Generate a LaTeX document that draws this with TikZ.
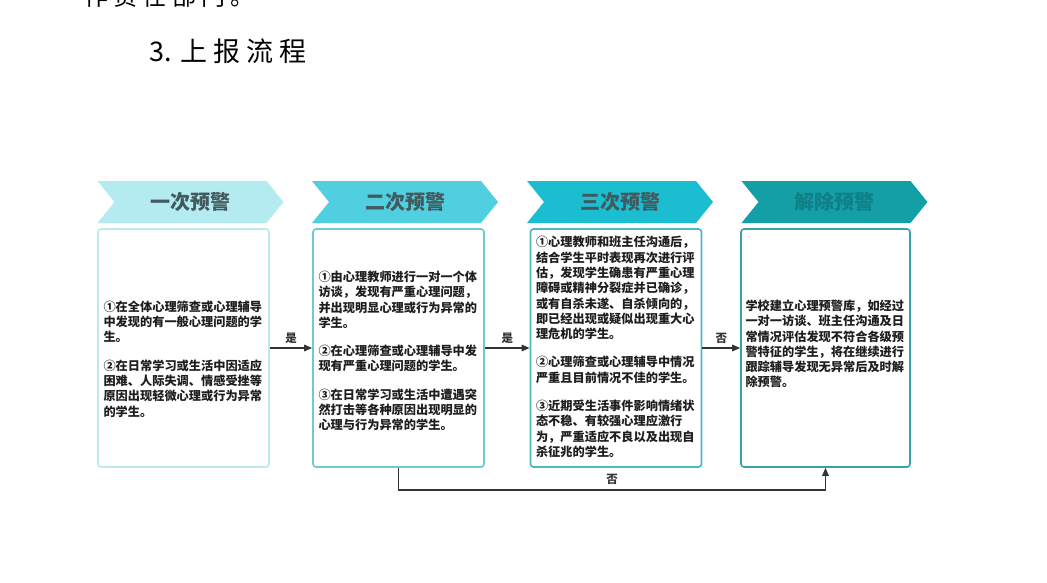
\documentclass[tikz,border=0pt]{standalone}
\usepackage{fontspec}
\setmainfont{Noto Sans CJK SC}
\newfontfamily\spacedcjk{Noto Sans CJK SC}[LetterSpace=22]
\usetikzlibrary{shapes.symbols,arrows.meta}
\definecolor{bannerA}{HTML}{B3EBF1}
\definecolor{bannerB}{HTML}{4FCFDF}
\definecolor{bannerC}{HTML}{1BBDD1}
\definecolor{bannerD}{HTML}{149FA7}
\definecolor{frameA}{HTML}{B8EAF0}
\definecolor{frameB}{HTML}{6BCAD6}
\definecolor{frameC}{HTML}{48B8C3}
\definecolor{frameD}{HTML}{35A3AB}
\definecolor{headtext}{HTML}{43595D}
\definecolor{bodytext}{HTML}{1E1E1E}
\definecolor{flowgray}{HTML}{333333}

\begin{document}
\begin{tikzpicture}[x=1pt,y=-1pt,
    every node/.style={inner sep=0pt},
    banner/.style={signal, signal to=east, signal from=west, signal pointer angle=102,
      minimum width=186pt, minimum height=42pt, text=headtext,
      font=\bfseries\fontsize{20}{20}\selectfont},
    stagebox/.style={draw, line width=1.6pt, rounded corners=3pt,
      minimum width=171pt, minimum height=238pt},
    stagetext/.style={text width=160pt, align=left, text=bodytext,
      font=\bfseries\fontsize{12.2}{15.3}\selectfont},
    flow/.style={draw=flowgray, line width=1.5pt, -{Triangle[length=8pt,width=6.5pt]}},
    flowlabel/.style={text=flowgray, font=\bfseries\fontsize{11.5}{11.5}\selectfont}]
  \useasboundingbox (0,0) rectangle (1047,583);

  % heading text
  \node[anchor=west, font=\spacedcjk\fontsize{24}{24}\selectfont] (prevline) at (84,-4) {作责任部门。};
  \node[anchor=west, font=\fontsize{27}{27}\selectfont] (title) at (149,51) {3.\hspace{9pt}{\spacedcjk 上报流程}};

  % banners
  \node[banner, fill=bannerA] (warn1) at (190.5,202) {一次预警};
  \node[banner, fill=bannerB] (warn2) at (405,202) {二次预警};
  \node[banner, fill=bannerC] (warn3) at (620,202) {三次预警};
  \node[banner, fill=bannerD, text=bannerD!80!black] (lift) at (834.5,202) {解除预警};

  % boxes
  \node[stagebox, draw=frameA] (box1) at (183.5,348) {};
  \node[stagebox, draw=frameB] (box2) at (398.5,348) {};
  \node[stagebox, draw=frameC] (box3) at (616,348) {};
  \node[stagebox, draw=frameD, minimum width=169pt] (box4) at (825.5,348) {};

  \node[stagetext, yshift=-11pt] (text1) at (box1.center) {①在全体心理筛查或心理辅导\\中发现的有一般心理问题的学\\生。\\[13pt]
    ②在日常学习或生活中因适应\\困难、人际失调、情感受挫等\\原因出现轻微心理或行为异常\\的学生。};
  \node[stagetext, yshift=-3pt] (text2) at (box2.center) {①由心理教师进行一对一个体\\访谈，发现有严重心理问题，\\并出现明显心理或行为异常的\\学生。\\[13pt]
    ②在心理筛查或心理辅导中发\\现有严重心理问题的学生。\\[13pt]
    ③在日常学习或生活中遭遇突\\然打击等各种原因出现明显的\\心理与行为异常的学生。};
  \node[stagetext, yshift=1pt] (text3) at (box3.center) {①心理教师和班主任沟通后，\\结合学生平时表现再次进行评\\估，发现学生确患有严重心理\\障碍或精神分裂症并已确诊，\\或有自杀未遂、自杀倾向的，\\即已经出现或疑似出现重大心\\理危机的学生。\\[13pt]
    ②心理筛查或心理辅导中情况\\严重且目前情况不佳的学生。\\[13pt]
    ③近期受生活事件影响情绪状\\态不稳、有较强心理应激行\\为，严重适应不良以及出现自\\杀征兆的学生。};
  \node[stagetext, yshift=4pt] (text4) at (box4.center) {学校建立心理预警库，如经过\\一对一访谈、班主任沟通及日\\常情况评估发现不符合各级预\\警特征的学生，将在继续进行\\跟踪辅导发现无异常后及时解\\除预警。};

  % connectors
  \draw[flow] (box1) -- node[flowlabel, above=4pt] {是} (box2);
  \draw[flow] (box2) -- node[flowlabel, above=4pt] {是} (box3);
  \draw[flow] (box3) -- node[flowlabel, above=4pt] {否} (box4);
  \draw[flow] (box2.south) -- ++(0,22) -| node[flowlabel, pos=0.25, above=4pt] {否} (box4.south);
\end{tikzpicture}
\end{document}
